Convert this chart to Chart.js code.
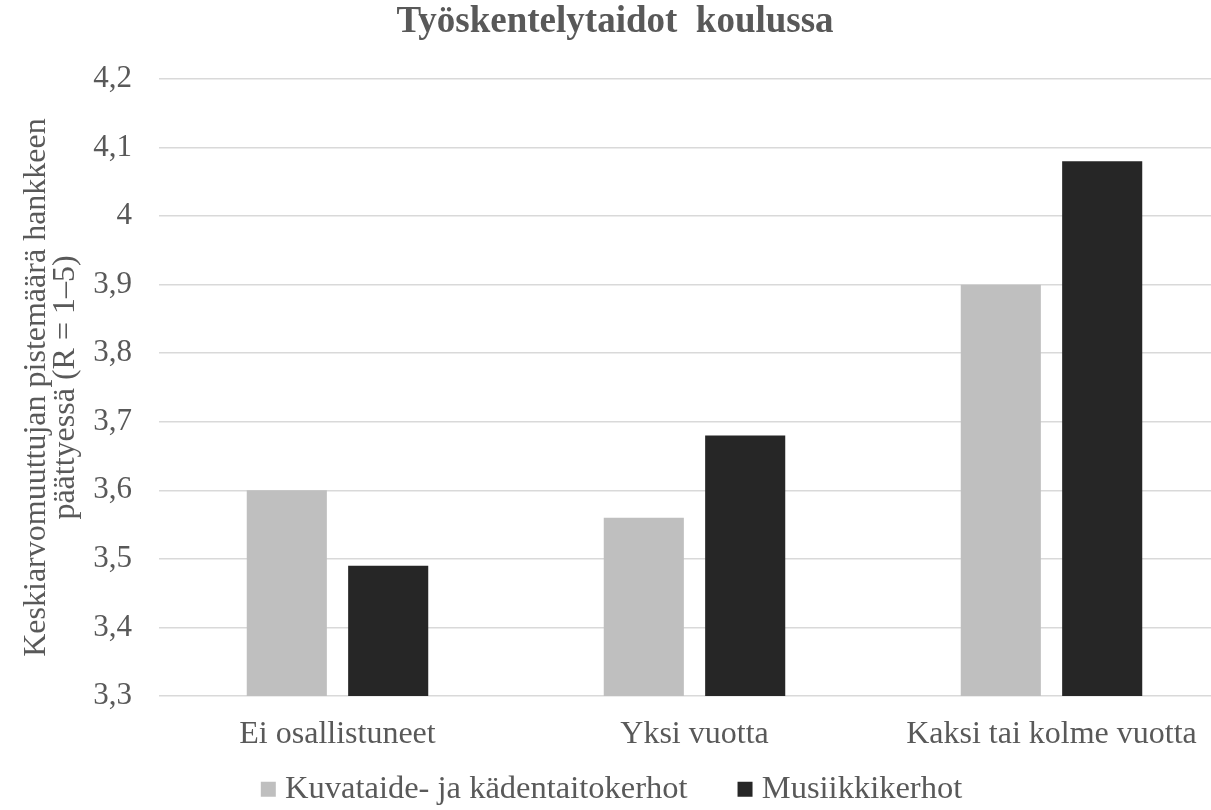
<!DOCTYPE html>
<html lang="fi">
<head>
<meta charset="utf-8">
<title>Työskentelytaidot koulussa</title>
<script src="https://cdn.jsdelivr.net/npm/chart.js@4/dist/chart.umd.min.js"></script>
<style>
  html, body { margin: 0; padding: 0; background: #fff; overflow: hidden; }
  #wrap { width: 1233px; height: 810px; }
</style>
</head>
<body>
<div id="wrap"><canvas id="chartTaidot" width="1233" height="810"></canvas></div>
<script>
// data luettu kuvasta
const kategoriat = ['Ei osallistuneet', 'Yksi vuotta', 'Kaksi tai kolme vuotta'];
const sarjaNimet = ['Kuvataide- ja kädentaitokerhot', 'Musiikkikerhot'];
const kuvataide = [3.60, 3.56, 3.90];
const musiikki = [3.49, 3.68, 4.08];
const yMin = 3.3;
const yMax = 4.2;
const yAskel = 0.1;

const otsikko = 'Työskentelytaidot  koulussa';
const yOtsikko = ['Keskiarvomuuttujan pistemäärä hankkeen', 'päättyessä (R = 1–5)'];

const fontti = "'Liberation Serif', 'Times New Roman', serif";
const harmaaTeksti = '#595959';

const ctx = document.getElementById('chartTaidot').getContext('2d');
const chartTaidot = new Chart(ctx, {
  type: 'bar',
  data: {
    labels: kategoriat,
    datasets: [
      { label: sarjaNimet[0], data: kuvataide, backgroundColor: '#bfbfbf', borderWidth: 0 },
      { label: sarjaNimet[1], data: musiikki, backgroundColor: '#262626', borderWidth: 0 }
    ]
  },
  options: {
    responsive: false,
    animation: false,
    devicePixelRatio: 1,
    categoryPercentage: 0.568,
    barPercentage: 0.79,
    layout: { padding: { top: 0, left: 0, right: 3, bottom: 2 } },
    plugins: {
      tooltip: { enabled: false },
      title: {
        display: true,
        text: otsikko,
        color: harmaaTeksti,
        font: { family: fontti, size: 37, weight: 'bold', lineHeight: 1 },
        padding: { top: 4, bottom: 38 }
      },
      legend: {
        position: 'bottom',
        maxHeight: 60,
        // tyhjä otsikko negatiivisella paddingilla nostaa selitteen riviä,
        // jotta kohteiden väliin mahtuu leveämpi rako
        title: {
          display: true,
          text: '',
          font: { family: fontti, size: 10, lineHeight: 1 },
          padding: { top: -42, bottom: 0 }
        },
        labels: {
          color: harmaaTeksti,
          font: { family: fontti, size: 32.5 },
          usePointStyle: true,
          pointStyle: 'rect',
          boxWidth: 1,
          boxHeight: 15,
          padding: 57
        }
      }
    },
    scales: {
      x: {
        grid: { display: false },
        border: { display: false },
        ticks: {
          color: harmaaTeksti,
          font: { family: fontti, size: 32 },
          padding: 11,
          maxRotation: 0,
          autoSkip: false
        },
        afterFit: (s) => { s.height = 52; }
      },
      y: {
        min: yMin,
        max: yMax,
        border: { display: false },
        grid: { color: '#d9d9d9', lineWidth: 1.5, drawTicks: false },
        ticks: {
          stepSize: yAskel,
          color: harmaaTeksti,
          font: { family: fontti, size: 31 },
          padding: 27,
          callback: (v) => String(Math.round(v * 10) / 10).replace('.', ',')
        },
        title: {
          display: true,
          text: yOtsikko,
          color: harmaaTeksti,
          font: { family: fontti, size: 32, lineHeight: 0.9 },
          padding: { top: 22, bottom: 0 }
        },
        afterFit: (s) => { s.width = 159; }
      }
    }
  }
});
</script>
</body>
</html>
